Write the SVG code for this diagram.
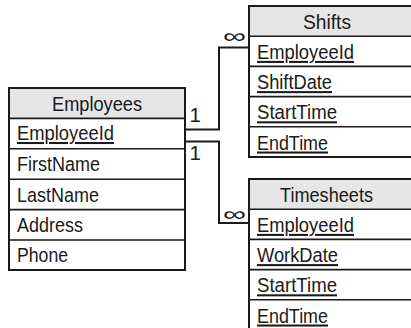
<svg xmlns="http://www.w3.org/2000/svg" width="411" height="328" viewBox="0 0 411 328">
<style>
.box{fill:#fff;stroke:#1a1a1a;stroke-width:2}
.hdr{fill:#e6e6e6;stroke:none}
.sep{stroke:#1a1a1a;stroke-width:1.6}
text{font-family:"Liberation Sans",Arial,sans-serif;font-size:20.5px;fill:#1a1a1a}
.c{text-anchor:middle}
.u{text-decoration:underline}
.con{fill:none;stroke:#1a1a1a;stroke-width:2}
</style>
<rect width="411" height="328" fill="#fff"/>
<g id="connectors">
<path class="con" d="M185,129.5 H219 V47.5 H249"/>
<path class="con" d="M185,141.5 H219 V223 H249"/>
<text x="189.5" y="122" font-size="20.5">1</text>
<text x="189.5" y="160" font-size="20.5">1</text>
<text x="223" y="42.5" textLength="23" lengthAdjust="spacingAndGlyphs" font-size="34">∞</text>
<text x="223" y="220.5" textLength="23" lengthAdjust="spacingAndGlyphs" font-size="34">∞</text>
</g>
<g id="employees">
<rect class="box" x="9" y="88" width="176" height="182"/>
<rect class="hdr" x="10" y="89" width="174" height="29"/>
<line class="sep" x1="9" y1="118.4" x2="185" y2="118.4"/>
<line class="sep" x1="9" y1="148.8" x2="185" y2="148.8"/>
<line class="sep" x1="9" y1="179.2" x2="185" y2="179.2"/>
<line class="sep" x1="9" y1="209.6" x2="185" y2="209.6"/>
<line class="sep" x1="9" y1="240" x2="185" y2="240"/>
<text class="c" x="97" y="110.7" textLength="90" lengthAdjust="spacingAndGlyphs">Employees</text>
<text class="u" x="17" y="140" textLength="97" lengthAdjust="spacingAndGlyphs">EmployeeId</text>
<text x="17" y="171" textLength="83" lengthAdjust="spacingAndGlyphs">FirstName</text>
<text x="17" y="201.5" textLength="82" lengthAdjust="spacingAndGlyphs">LastName</text>
<text x="17" y="232" textLength="66" lengthAdjust="spacingAndGlyphs">Address</text>
<text x="17" y="262.4" textLength="51" lengthAdjust="spacingAndGlyphs">Phone</text>
</g>
<g id="shifts">
<rect class="box" x="249" y="6" width="180" height="151"/>
<rect class="hdr" x="250" y="7" width="178" height="29"/>
<line class="sep" x1="249" y1="36.2" x2="430" y2="36.2"/>
<line class="sep" x1="249" y1="66.4" x2="430" y2="66.4"/>
<line class="sep" x1="249" y1="96.6" x2="430" y2="96.6"/>
<line class="sep" x1="249" y1="126.8" x2="430" y2="126.8"/>
<text class="c" x="327" y="28.7" textLength="48" lengthAdjust="spacingAndGlyphs">Shifts</text>
<text class="u" x="257" y="58.9" textLength="97" lengthAdjust="spacingAndGlyphs">EmployeeId</text>
<text class="u" x="257" y="89.1" textLength="75" lengthAdjust="spacingAndGlyphs">ShiftDate</text>
<text class="u" x="257" y="119.3" textLength="80" lengthAdjust="spacingAndGlyphs">StartTime</text>
<text class="u" x="257" y="149.5" textLength="71" lengthAdjust="spacingAndGlyphs">EndTime</text>
</g>
<g id="timesheets">
<rect class="box" x="249" y="179" width="180" height="160"/>
<rect class="hdr" x="250" y="180" width="178" height="29"/>
<line class="sep" x1="249" y1="209.2" x2="430" y2="209.2"/>
<line class="sep" x1="249" y1="239.4" x2="430" y2="239.4"/>
<line class="sep" x1="249" y1="269.6" x2="430" y2="269.6"/>
<line class="sep" x1="249" y1="299.8" x2="430" y2="299.8"/>
<text class="c" x="326.5" y="201.7" textLength="93" lengthAdjust="spacingAndGlyphs">Timesheets</text>
<text class="u" x="257" y="231.9" textLength="97" lengthAdjust="spacingAndGlyphs">EmployeeId</text>
<text class="u" x="257" y="262.1" textLength="81" lengthAdjust="spacingAndGlyphs">WorkDate</text>
<text class="u" x="257" y="292.3" textLength="80" lengthAdjust="spacingAndGlyphs">StartTime</text>
<text class="u" x="257" y="322.5" textLength="71" lengthAdjust="spacingAndGlyphs">EndTime</text>
</g>
</svg>
